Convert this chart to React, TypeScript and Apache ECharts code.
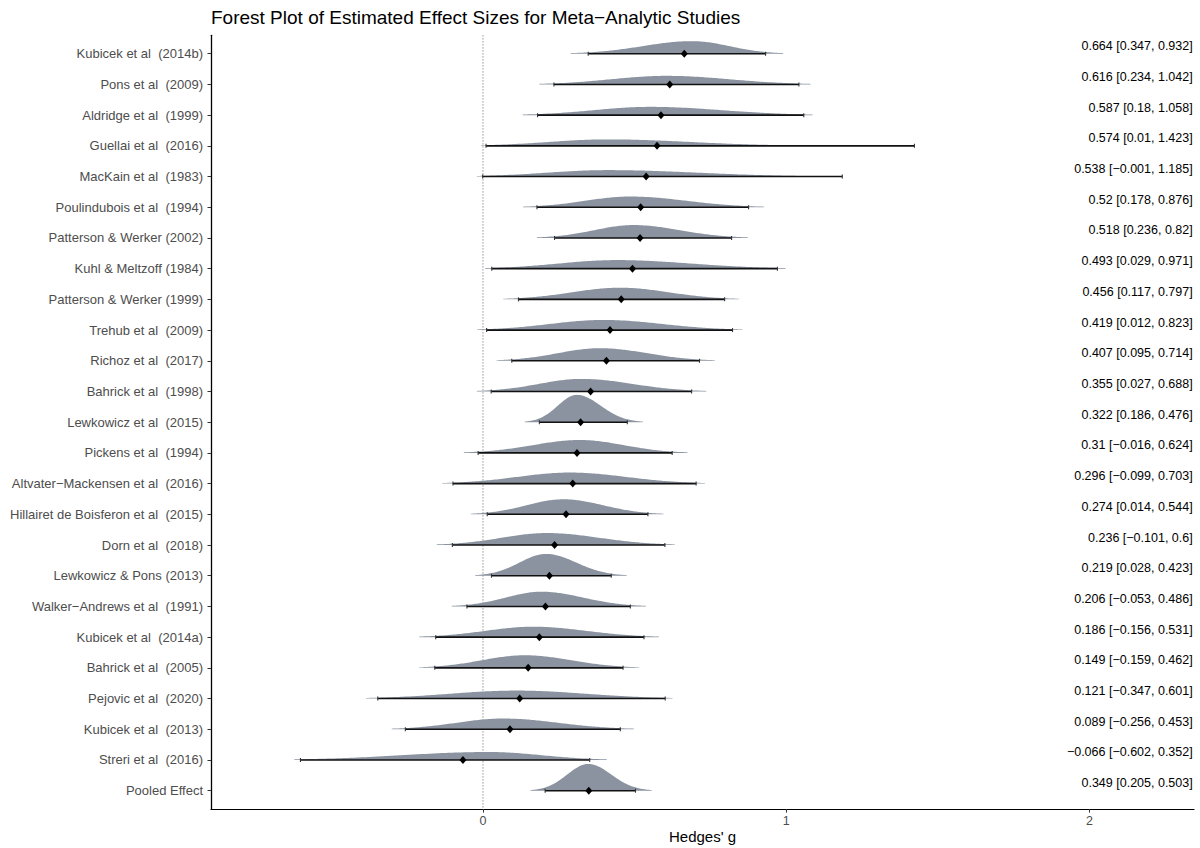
import React, { useEffect, useRef } from "react";
import * as echarts from "echarts";

// ---- data ----
const studies = [
  "Kubicek et al  (2014b)",
  "Pons et al  (2009)",
  "Aldridge et al  (1999)",
  "Guellai et al  (2016)",
  "MacKain et al  (1983)",
  "Poulindubois et al  (1994)",
  "Patterson & Werker (2002)",
  "Kuhl & Meltzoff (1984)",
  "Patterson & Werker (1999)",
  "Trehub et al  (2009)",
  "Richoz et al  (2017)",
  "Bahrick et al  (1998)",
  "Lewkowicz et al  (2015)",
  "Pickens et al  (1994)",
  "Altvater\u2212Mackensen et al  (2016)",
  "Hillairet de Boisferon et al  (2015)",
  "Dorn et al  (2018)",
  "Lewkowicz & Pons (2013)",
  "Walker\u2212Andrews et al  (1991)",
  "Kubicek et al  (2014a)",
  "Bahrick et al  (2005)",
  "Pejovic et al  (2020)",
  "Kubicek et al  (2013)",
  "Streri et al  (2016)",
  "Pooled Effect",
];

const estimates = [0.664, 0.616, 0.587, 0.574, 0.538, 0.52, 0.518, 0.493, 0.456, 0.419, 0.407, 0.355, 0.322, 0.31, 0.296, 0.274, 0.236, 0.219, 0.206, 0.186, 0.149, 0.121, 0.089, -0.066, 0.349];
const ciLower = [0.347, 0.234, 0.18, 0.01, -0.001, 0.178, 0.236, 0.029, 0.117, 0.012, 0.095, 0.027, 0.186, -0.016, -0.099, 0.014, -0.101, 0.028, -0.053, -0.156, -0.159, -0.347, -0.256, -0.602, 0.205];
const ciUpper = [0.932, 1.042, 1.058, 1.423, 1.185, 0.876, 0.82, 0.971, 0.797, 0.823, 0.714, 0.688, 0.476, 0.624, 0.703, 0.544, 0.6, 0.423, 0.486, 0.531, 0.462, 0.601, 0.453, 0.352, 0.503];

// posterior density ridges: mode, left end, right end, peak height (in rows)
const densityMode = [0.69, 0.605, 0.55, 0.41, 0.41, 0.485, 0.496, 0.44, 0.452, 0.397, 0.386, 0.325, 0.309, 0.32, 0.287, 0.265, 0.21, 0.208, 0.193, 0.166, 0.138, 0.111, 0.067, 0.02, 0.347];
const densityFrom = [0.29, 0.186, 0.131, -0.007, -0.02, 0.132, 0.178, 0.007, 0.067, -0.02, 0.045, -0.02, 0.138, -0.063, -0.134, -0.04, -0.153, -0.026, -0.103, -0.21, -0.21, -0.386, -0.301, -0.622, 0.157];
const densityTo = [0.99, 1.08, 1.087, 1.0, 1.05, 0.927, 0.873, 0.998, 0.844, 0.856, 0.765, 0.737, 0.527, 0.674, 0.732, 0.596, 0.633, 0.474, 0.537, 0.58, 0.514, 0.625, 0.498, 0.408, 0.556];
const densityPeak = [0.41, 0.28, 0.27, 0.21, 0.21, 0.35, 0.42, 0.28, 0.38, 0.33, 0.41, 0.41, 0.89, 0.42, 0.36, 0.49, 0.39, 0.71, 0.48, 0.34, 0.41, 0.26, 0.35, 0.26, 0.87];

const xTicks = [0, 1, 2];
const X_MIN = -0.897;
const X_MAX = 2.345;

const FONT = "'Liberation Sans', Arial, Helvetica, sans-serif";

const fmt = (v: number) => String(v).replace("-", "\u2212");

export default function App() {
  const ref = useRef<HTMLDivElement>(null);

  useEffect(() => {
    if (!ref.current) return;
    const chart = echarts.init(ref.current, undefined, { renderer: "svg" });
    const rowIdx = studies.map((_, i) => i);

    const densityData = studies.map((_, i) => [i, densityMode[i], densityFrom[i], densityTo[i], densityPeak[i]]);
    const intervalData = studies.map((_, i) => [i, estimates[i], ciLower[i], ciUpper[i]]);

    const option: any = {
      animation: false,
      grid: { left: 211, right: 6, top: 35.3, bottom: 38.9, containLabel: false },
      xAxis: {
        type: "value",
        min: X_MIN,
        max: X_MAX,
        splitLine: { show: false },
        axisLine: { show: true, onZero: false, lineStyle: { color: "#000", width: 1.2 } },
        axisTick: { show: true, customValues: xTicks, length: 3.5, lineStyle: { color: "#333", width: 1 } },
        axisLabel: {
          customValues: xTicks,
          color: "#4d4d4d",
          fontSize: 12.5,
          fontFamily: FONT,
          margin: 5,
          formatter: (v: number) => String(v),
        },
      },
      yAxis: {
        type: "value",
        inverse: true,
        min: -0.6,
        max: 24.6,
        splitLine: { show: false },
        axisLine: { show: true, onZero: false, lineStyle: { color: "#000", width: 1.3 } },
        axisTick: { show: true, customValues: rowIdx, length: 3.5, lineStyle: { color: "#333", width: 1 } },
        axisLabel: {
          customValues: rowIdx,
          color: "#4d4d4d",
          fontSize: 13,
          fontFamily: FONT,
          margin: 8,
          formatter: (v: number) => studies[Math.round(v)] ?? "",
        },
      },
      graphic: [
        {
          type: "text",
          x: 211,
          y: 17.7,
          style: {
            text: "Forest Plot of Estimated Effect Sizes for Meta\u2212Analytic Studies",
            fontSize: 19,
            fontFamily: FONT,
            fill: "#000",
            align: "left",
            verticalAlign: "middle",
          },
        },
        {
          type: "text",
          x: 702.5,
          y: 836.5,
          style: {
            text: "Hedges' g",
            fontSize: 15,
            fontFamily: FONT,
            fill: "#000",
            align: "center",
            verticalAlign: "middle",
          },
        },
      ],
      series: [
        {
          type: "line",
          data: [[0, -0.6], [0, 24.6]],
          symbol: "none",
          silent: true,
          z: 1,
          lineStyle: { color: "#7a7a7a", width: 1, type: [1.2, 1.8] },
        },
        {
          type: "custom",
          z: 2,
          silent: true,
          data: densityData,
          encode: { x: [1, 2, 3], y: 0 },
          renderItem: (params: any, api: any) => {
            const i = api.value(0);
            const mode = api.value(1);
            const from = api.value(2);
            const to = api.value(3);
            const peak = api.value(4);
            const base = api.coord([mode, i])[1];
            const rowPx = Math.abs(api.size([0, 1])[1]);
            const hPx = peak * rowPx;
            const k = Math.sqrt(2 * Math.log(hPx / 0.6));
            const sL = (mode - from) / k;
            const sR = (to - mode) / k;
            const pts: number[][] = [];
            const N = 140;
            for (let j = 0; j <= N; j++) {
              const x = from + ((to - from) * j) / N;
              const s = x < mode ? sL : sR;
              const d = hPx * Math.exp(-((x - mode) * (x - mode)) / (2 * s * s));
              pts.push([api.coord([x, i])[0], base - d]);
            }
            pts.push([api.coord([to, i])[0], base]);
            pts.push([api.coord([from, i])[0], base]);
            return {
              type: "polygon",
              shape: { points: pts },
              style: { fill: "#8a939f", stroke: "none" },
            };
          },
        },
        {
          type: "custom",
          z: 3,
          silent: true,
          data: intervalData,
          encode: { x: [1, 2, 3], y: 0 },
          clip: false,
          renderItem: (params: any, api: any) => {
            const i = api.value(0);
            const est = api.value(1);
            const lo = api.value(2);
            const hi = api.value(3);
            const pL = api.coord([lo, i]);
            const pH = api.coord([hi, i]);
            const pE = api.coord([est, i]);
            const rowPx = Math.abs(api.size([0, 1])[1]);
            const right = api.coord([X_MAX, i])[0];
            const cap = 2;
            const dw = 3.5;
            const dh = 4;
            return {
              type: "group",
              children: [
                {
                  type: "line",
                  shape: { x1: pL[0], y1: pL[1], x2: pH[0], y2: pH[1] },
                  style: { stroke: "#111", lineWidth: 1.6 },
                },
                {
                  type: "line",
                  shape: { x1: pL[0], y1: pL[1] - cap, x2: pL[0], y2: pL[1] + cap },
                  style: { stroke: "#333", lineWidth: 1.1 },
                },
                {
                  type: "line",
                  shape: { x1: pH[0], y1: pH[1] - cap, x2: pH[0], y2: pH[1] + cap },
                  style: { stroke: "#333", lineWidth: 1.1 },
                },
                {
                  type: "polygon",
                  shape: {
                    points: [
                      [pE[0], pE[1] - dh],
                      [pE[0] + dw, pE[1]],
                      [pE[0], pE[1] + dh],
                      [pE[0] - dw, pE[1]],
                    ],
                  },
                  style: { fill: "#000" },
                },
                {
                  type: "text",
                  x: right - 1.3,
                  y: pE[1] - rowPx * 0.245,
                  style: {
                    text: `${fmt(est)} [${fmt(lo)}, ${fmt(hi)}]`,
                    fontSize: 12.5,
                    fontFamily: FONT,
                    fill: "#000",
                    align: "right",
                    verticalAlign: "middle",
                  },
                },
              ],
            };
          },
        },
      ],
    };

    chart.setOption(option);
    return () => chart.dispose();
  }, []);

  return (
    <div
      ref={ref}
      style={{ position: "fixed", left: 0, top: 0, width: 1200, height: 848, background: "#fff" }}
    />
  );
}
